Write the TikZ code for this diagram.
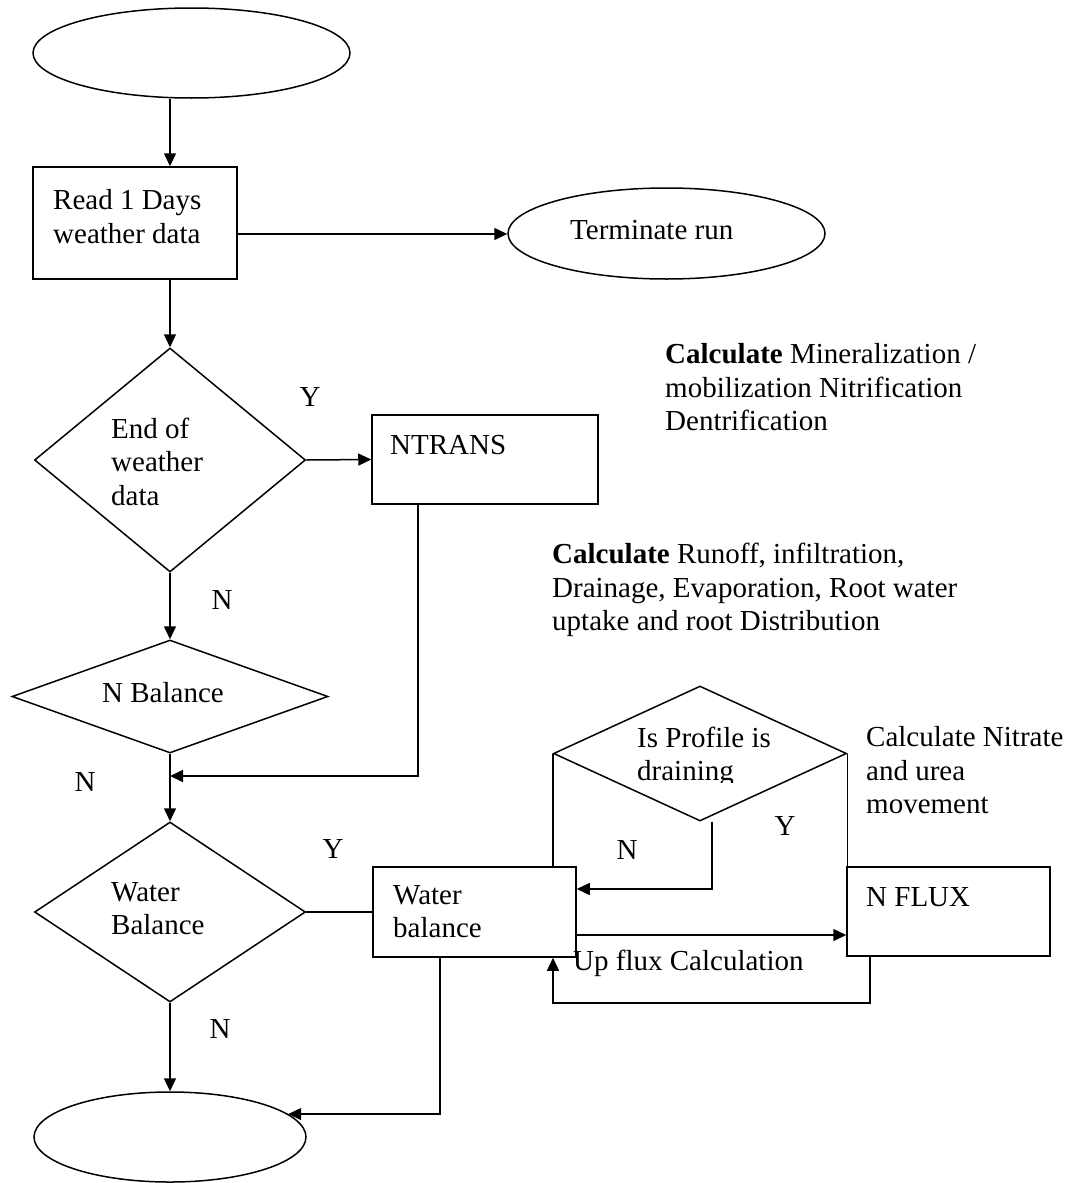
\documentclass[tikz,border=0pt]{standalone}
\usepackage{fontspec}
\setmainfont{Liberation Serif}
\usetikzlibrary{shapes.geometric,arrows.meta}
\begin{document}
\begin{tikzpicture}[x=1pt,y=-1pt,
  every node/.style={font=\fontsize{29}{33.5}\selectfont},
  flow/.style={line width=1.5pt},
  arr/.style={flow,-{Triangle[length=13pt,width=12pt]}},
  oval/.style={draw,flow,ellipse,inner sep=0pt},
  box/.style={draw,flow,rectangle,inner sep=0pt},
  decision/.style={draw,flow,diamond,inner sep=0pt},
  txt/.style={inner sep=0pt,align=left,anchor=west},
  yn/.style={inner sep=0pt}]

% page area
\fill[white] (0,0) rectangle (1082,1183);
\useasboundingbox (0,0) rectangle (1082,1183);

% main column of the flow chart
\coordinate (spine) at (170,0);
\node[oval, minimum width=317, minimum height=90] (start) at (191.5,53) {};
\node[box, minimum width=204, minimum height=112] (read) at (135,223) {};
\node[txt] (readt) at (53,216.5) {Read 1 Days\\weather data};
\node[oval, minimum width=317, minimum height=91] (term) at (666.5,233.5) {};
\node[txt] (termt) at (570,230) {Terminate run};

\node[decision, minimum width=271, minimum height=224] (endw) at (170,460) {};
\node[txt] (endwt) at (111,461.5) {End of\\weather\\data};
\node[box, minimum width=226, minimum height=89] (ntrans) at (485,459.5) {};
\node[txt] (ntranst) at (390,445) {NTRANS};

\node[decision, minimum width=316, minimum height=113] (nbal) at (170,696.5) {};
\node[inner sep=0pt] (nbalt) at (163,693) {N Balance};
\coordinate (join) at (170,776);

\node[decision, minimum width=271, minimum height=180] (wbal) at (170,912) {};
\node[txt] (wbalt) at (111,908.5) {Water\\Balance};

\node[oval, minimum width=272, minimum height=90] (stop) at (170,1137) {};

% water balance loop
\node[box, minimum width=203, minimum height=90] (wbox) at (474.5,912) {};
\node[txt] (wboxt) at (393,911.5) {Water\\balance};
\node[decision, minimum width=293, minimum height=135] (drain) at (700,753.5) {};
\begin{scope}
  \clip (600,700) rectangle (820,782);
  \node[txt] (draint) at (637,757) {Is Profile is\\draining};
\end{scope}
\node[box, minimum width=203, minimum height=89] (nflux) at (948.5,911.5) {};
\node[txt] (nfluxt) at (866,897) {N FLUX};

% notes
\node[txt] (note1) at (665,387.5) {\textbf{Calculate} Mineralization /\\mobilization Nitrification\\Dentrification};
\node[txt] (note2) at (552,590) {\textbf{Calculate} Runoff, infiltration,\\Drainage, Evaporation, Root water\\uptake and root Distribution};
\node[txt] (note3) at (866,770.5) {Calculate Nitrate\\and urea\\movement};
\node[txt] (upflux) at (573,963) {Up flux Calculation};

% branch labels
\node[yn] (y1) at (310,397) {Y};
\node[yn] (n1) at (222,600) {N};
\node[yn] (n2) at (85,782) {N};
\node[yn] (y2) at (333,849) {Y};
\node[yn] (n3) at (220,1029) {N};
\node[yn] (n4) at (627,850) {N};
\node[yn] (y3) at (785,826) {Y};

% connectors
\draw[arr] (start.south -| spine) -- (read.north -| spine);
\draw[arr] ([yshift=-11pt]read.east) -- ([yshift=-11pt]read.east -| term.west);
\draw[arr] (read.south -| spine) -- (endw.north);
\draw[arr] (endw.east) -- (ntrans.west);
\draw[arr] (endw.south) -- (nbal.north);
\draw[arr] ([xshift=-67pt]ntrans.south) |- (join);
\draw[arr] (nbal.south) -- (wbal.north);
\draw[flow] (wbal.east) -- (wbox.west);
\draw[arr] (wbal.south) -- (stop.north);
\draw[flow] (drain.west) -- (drain.west |- wbox.north);
\draw[flow] (drain.east) -- (drain.east |- nflux.north);
\draw[arr] ([xshift=12pt]drain.south) |- ([yshift=23pt]wbox.east);
\draw[arr] ([yshift=-23pt]wbox.east) -- ([yshift=-23pt]wbox.east -| nflux.west);
\draw[arr] ([xshift=-78.5pt]nflux.south) -- ++(0,46) -| ([xshift=78.5pt]wbox.south);
\draw[arr] ([xshift=-34.5pt]wbox.south) |- (stop.11);
\end{tikzpicture}
\end{document}
